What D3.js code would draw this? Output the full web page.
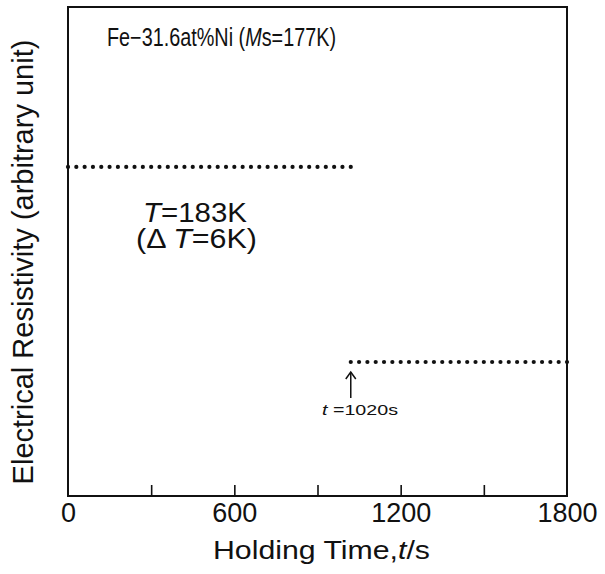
<!DOCTYPE html>
<html>
<head>
<meta charset="utf-8">
<script src="https://cdn.jsdelivr.net/npm/d3@7"></script>
<style>
  body { margin: 0; background: #fff; }
  svg { font-family: "Liberation Sans", Arial, sans-serif; }
</style>
</head>
<body>
<svg id="chart" width="605" height="574"></svg>
<script>
// before transformation: holding time (s), resistivity (arbitrary)
const timeBefore = [0, 30, 60, 90, 120, 150, 180, 210, 240, 270, 300, 330, 360, 390, 420, 450,
  480, 510, 540, 570, 600, 630, 660, 690, 720, 750, 780, 810, 840, 870, 900, 930, 960, 990, 1020];
const rhoBefore = [67.3, 67.3, 67.3, 67.3, 67.3, 67.3, 67.3, 67.3, 67.3, 67.3, 67.3, 67.3, 67.3,
  67.3, 67.3, 67.3, 67.3, 67.3, 67.3, 67.3, 67.3, 67.3, 67.3, 67.3, 67.3, 67.3, 67.3, 67.3, 67.3,
  67.3, 67.3, 67.3, 67.3, 67.3, 67.3];

// after transformation
const timeAfter = [1020, 1050, 1080, 1110, 1140, 1170, 1200, 1230, 1260, 1290, 1320, 1350, 1380,
  1410, 1440, 1470, 1500, 1530, 1560, 1590, 1620, 1650, 1680, 1710, 1740, 1770, 1800];
const rhoAfter = [27.4, 27.4, 27.4, 27.4, 27.4, 27.4, 27.4, 27.4, 27.4, 27.4, 27.4, 27.4, 27.4,
  27.4, 27.4, 27.4, 27.4, 27.4, 27.4, 27.4, 27.4, 27.4, 27.4, 27.4, 27.4, 27.4, 27.4];

const tickValues = [0, 300, 600, 900, 1200, 1500, 1800];
const tickLabels = ["0", "", "600", "", "1200", "", "1800"];
const onsetTime = 1020;

const svg = d3.select("#chart");
const margin = { left: 68, right: 38, top: 7, bottom: 78 };
const width = 605, height = 574;
const innerWidth = width - margin.left - margin.right;
const innerHeight = height - margin.top - margin.bottom;

const xScale = d3.scaleLinear().domain([0, 1800]).range([0, innerWidth]);
const yScale = d3.scaleLinear().domain([0, 100]).range([innerHeight, 0]);

const g = svg.append("g")
  .attr("transform", `translate(${margin.left}, ${margin.top})`);

// frame
g.append("rect")
  .attr("width", innerWidth)
  .attr("height", innerHeight)
  .attr("fill", "none")
  .attr("stroke", "#111")
  .attr("stroke-width", 2);

// x axis with inward ticks
const xAxis = g.append("g")
  .attr("transform", `translate(0, ${innerHeight})`)
  .call(d3.axisBottom(xScale)
    .tickValues(tickValues)
    .tickSize(-11)
    .tickPadding(7)
    .tickFormat((d, i) => tickLabels[i]));
xAxis.select(".domain").remove();
xAxis.selectAll("line").attr("stroke", "#111").attr("stroke-width", 1.6);
xAxis.selectAll("text")
  .attr("font-size", 27)
  .attr("font-family", "Liberation Sans, Arial, sans-serif")
  .attr("fill", "#111");
xAxis.selectAll(".tick").filter(d => d === 0 || d === 1800).select("line").remove();

// dots
const drawDots = (xs, ys) => {
  g.append("g").selectAll("circle")
    .data(xs.map((t, i) => ({ t: t, r: ys[i] })))
    .enter()
    .append("circle")
    .attr("cx", d => xScale(d.t))
    .attr("cy", d => yScale(d.r))
    .attr("r", 2.1)
    .attr("fill", "#111");
};
drawDots(timeBefore, rhoBefore);
drawDots(timeAfter, rhoAfter);

// arrow marking the onset
const ax = xScale(onsetTime);
const ay = yScale(rhoAfter[0]);
g.append("line")
  .attr("x1", ax).attr("x2", ax)
  .attr("y1", ay + 10).attr("y2", ay + 36)
  .attr("stroke", "#111").attr("stroke-width", 1.5);
g.append("path")
  .attr("d", `M${ax - 5},${ay + 17} L${ax},${ay + 10} L${ax + 5},${ay + 17}`)
  .attr("fill", "none").attr("stroke", "#111").attr("stroke-width", 1.5);
const tl = g.append("text")
  .attr("x", 322 - margin.left).attr("y", 415 - margin.top)
  .attr("font-size", 15)
  .attr("textLength", 76)
  .attr("lengthAdjust", "spacingAndGlyphs")
  .attr("fill", "#111");
tl.append("tspan").attr("font-style", "italic").text("t");
tl.append("tspan").text(" =1020s");

// title inside frame
const title = svg.append("text")
  .attr("x", 107).attr("y", 46)
  .attr("font-size", 25)
  .attr("textLength", 229)
  .attr("lengthAdjust", "spacingAndGlyphs")
  .attr("fill", "#111");
title.append("tspan").text("Fe\u221231.6at%Ni (");
title.append("tspan").attr("font-style", "italic").text("M");
title.append("tspan").text("s=177K)");

const t1 = svg.append("text")
  .attr("x", 143).attr("y", 222)
  .attr("font-size", 27)
  .attr("textLength", 104)
  .attr("lengthAdjust", "spacingAndGlyphs")
  .attr("fill", "#111");
t1.append("tspan").attr("font-style", "italic").text("T");
t1.append("tspan").text("=183K");

const t2 = svg.append("text")
  .attr("x", 136).attr("y", 248)
  .attr("font-size", 27)
  .attr("textLength", 121)
  .attr("lengthAdjust", "spacingAndGlyphs")
  .attr("fill", "#111");
t2.append("tspan").text("(\u0394 ");
t2.append("tspan").attr("font-style", "italic").text("T");
t2.append("tspan").text("=6K)");

// axis titles
const xl = svg.append("text")
  .attr("x", 213)
  .attr("y", 559)
  .attr("font-size", 25)
  .attr("textLength", 217)
  .attr("lengthAdjust", "spacingAndGlyphs")
  .attr("fill", "#111");
xl.append("tspan").text("Holding Time,");
xl.append("tspan").attr("font-style", "italic").text("t");
xl.append("tspan").text("/s");

svg.append("text")
  .attr("transform", "translate(33, 262) rotate(-90)")
  .attr("text-anchor", "middle")
  .attr("font-size", 29)
  .attr("fill", "#111")
  .text("Electrical Resistivity (arbitrary unit)");
</script>
</body>
</html>
